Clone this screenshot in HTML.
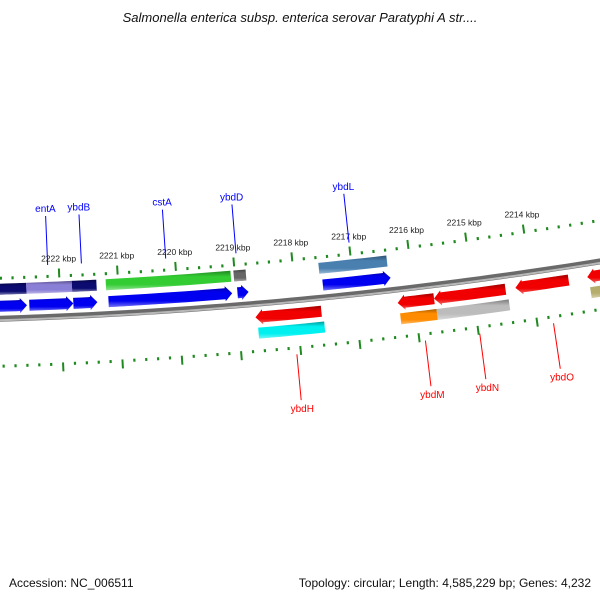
<!DOCTYPE html>
<html><head><meta charset="utf-8"><style>
html,body{margin:0;padding:0;background:#fff;}
svg{display:block;font-family:"Liberation Sans",sans-serif;}
</style></head><body>
<svg id="map" width="600" height="600" viewBox="0 0 600 600">
<defs>
<linearGradient id="shade" x1="0" y1="0" x2="0" y2="1">
<stop offset="0" stop-color="#000" stop-opacity="0.35"/>
<stop offset="0.3" stop-color="#000" stop-opacity="0"/>
<stop offset="0.7" stop-color="#fff" stop-opacity="0"/>
<stop offset="1" stop-color="#fff" stop-opacity="0.45"/>
</linearGradient>
</defs>
<text x="300" y="22" text-anchor="middle" font-size="13" font-style="italic" fill="#111">Salmonella enterica subsp. enterica serovar Paratyphi A str....</text>
<text x="9" y="587" font-size="12" fill="#111">Accession: NC_006511</text>
<text x="591" y="587" text-anchor="end" font-size="12" fill="#111">Topology: circular; Length: 4,585,229 bp; Genes: 4,232</text>
<g id="layer"></g>
</svg>
<script>
// data (kbp)
const tickStart = 2212.6;
const tickEnd = 2223.2;
const majorTicks = [2222, 2221, 2220, 2219, 2218, 2217, 2216, 2215, 2214];
const majorLabels = ["2222 kbp","2221 kbp","2220 kbp","2219 kbp","2218 kbp","2217 kbp","2216 kbp","2215 kbp","2214 kbp"];
// forward strand outer boxes (row B)
const rowBStart = [2223.1, 2222.57, 2221.79, 2221.21, 2219.02, 2217.56];
const rowBEnd   = [2222.57, 2221.79, 2221.37, 2219.07, 2218.81, 2216.39];
const rowBColor = ["#0b0b70", "#8a7fd6", "#0b0b70", "#33cc33", "#666666", "#4a80b0"];
// forward strand arrows (row A)
const rowAStart = [2223.1, 2222.53, 2221.78, 2221.18, 2218.98, 2217.52];
const rowAEnd   = [2222.57, 2221.78, 2221.37, 2219.07, 2218.79, 2216.36];
// reverse strand arrows (row C)
const rowCStart = [2218.71, 2216.29, 2215.67, 2214.28, 2213.05];
const rowCEnd   = [2217.59, 2215.67, 2214.45, 2213.37, 2212.3];
// reverse strand boxes (row D)
const rowDStart = [2218.68, 2216.27, 2215.65, 2213.03];
const rowDEnd   = [2217.56, 2215.65, 2214.42, 2212.3];
const rowDColor = ["#00f0f0", "#ff8c00", "#bcbcbc", "#b5ad6b"];
// gene labels
const fwdNames = ["entA","ybdB","cstA","ybdD","ybdL"];
const fwdPos = [2222.19, 2221.61, 2220.16, 2218.95, 2217.0];
const revNames = ["ybdH","ybdM","ybdN","ybdO"];
const revPos = [2218.07, 2215.9, 2214.98, 2213.73];

const R = 4700, XC = -146, CY = -4379;
const PHI0 = Math.asin(207 / 4700), DPHI = 0.01253;
function pt(kb, off) {
  const phi = PHI0 + (2222 - kb) * DPHI;
  const r = R + off;
  return [XC + r * Math.sin(phi), CY + r * Math.cos(phi)];
}
const NS = "http://www.w3.org/2000/svg";
const layer = document.getElementById("layer");
function mk(tag, attrs) {
  const e = document.createElementNS(NS, tag);
  for (const k in attrs) e.setAttribute(k, attrs[k]);
  layer.appendChild(e);
  return e;
}
function arcPts(a, b, off, n) {
  const out = [];
  for (let i = 0; i <= n; i++) out.push(pt(a + (b - a) * i / n, off));
  return out;
}
function ptsStr(p) { return p.map(q => q[0].toFixed(2) + "," + q[1].toFixed(2)).join(" "); }
// shape: dir 0 box, 1 arrow toward lower kb (right), -1 arrow toward higher kb (left)
function shape(a, b, o1, o2, dir) {
  const h = 0.12, m = (o1 + o2) / 2, ex = 2;
  if (dir === 0) return arcPts(a, b, o1, 6).concat(arcPts(b, a, o2, 6));
  if (dir === 1) {
    const bb = Math.min(a, b + h);
    return arcPts(a, bb, o1, 6).concat([pt(bb, o1 - ex), pt(b, m), pt(bb, o2 + ex)]).concat(arcPts(bb, a, o2, 6));
  }
  const aa = Math.max(b, a - h);
  return [pt(a, m), pt(aa, o1 - ex)].concat(arcPts(aa, b, o1, 6)).concat(arcPts(b, aa, o2, 6)).concat([pt(aa, o2 + ex)]);
}
function gene(a, b, o1, o2, dir, color, name) {
  const p = ptsStr(shape(a, b, o1, o2, dir));
  const g = mk("polygon", {points: p, fill: color});
  
  
  const s = mk("polygon", {points: p, fill: "url(#shade)"});
  
  
}
// backbone
const bb1 = mk("polyline", {points: ptsStr(arcPts(2223.6, 2212.2, 0, 60)), fill: "none", stroke: "#6a6a6a", "stroke-width": 6});


const bb2 = mk("polyline", {points: ptsStr(arcPts(2223.6, 2212.2, 1.5, 60)), fill: "none", stroke: "#b8b8b8", "stroke-width": 2});


// ticks
const nT = Math.round((tickEnd - tickStart) / 0.2);
for (let i = 0; i <= nT; i++) {
  const kb = tickStart + i * 0.2;
  const major = majorTicks.some(m => Math.abs(m - kb) < 0.01);
  const len = major ? 9 : 3;
  const w = major ? 2 : 2.2;
  let p1 = pt(kb, -39), p2 = pt(kb, -39 - len);
  const t1 = mk("line", {x1: p1[0], y1: p1[1], x2: p2[0], y2: p2[1], stroke: "#1f8a1f", "stroke-width": w});
  
  
  p1 = pt(kb, 46); p2 = pt(kb, 46 + len);
  const t2 = mk("line", {x1: p1[0], y1: p1[1], x2: p2[0], y2: p2[1], stroke: "#1f8a1f", "stroke-width": w});
  
  
}
majorTicks.forEach((kb, i) => {
  const p = pt(kb, -55);
  const t = mk("text", {x: p[0], y: p[1], "text-anchor": "middle", "font-size": 8.5, fill: "#222"});
  t.textContent = majorLabels[i];
  
  
});
// genes
rowBStart.forEach((a, i) => gene(a, rowBEnd[i], -35, -24, 0, rowBColor[i], 'forward-gene-box'));
rowAStart.forEach((a, i) => gene(a, rowAEnd[i], -18, -7, 1, "#0000f0", 'forward-gene-arrow'));
rowCStart.forEach((a, i) => gene(a, rowCEnd[i], 8, 19, -1, "#f00000", 'reverse-gene-arrow'));
rowDStart.forEach((a, i) => gene(a, rowDEnd[i], 24, 35, 0, rowDColor[i], 'reverse-gene-box'));
// labels
fwdNames.forEach((n, i) => {
  const p1 = pt(fwdPos[i], -52), p2 = pt(fwdPos[i], -101), pt3 = pt(fwdPos[i], -105);
  const l = mk("line", {x1: p1[0], y1: p1[1], x2: p2[0], y2: p2[1], stroke: "#0000ff", "stroke-width": 1});
  
  
  const t = mk("text", {x: pt3[0], y: pt3[1], "text-anchor": "middle", "font-size": 10, fill: "#0000ff"});
  t.textContent = n;
  
  
});
revNames.forEach((n, i) => {
  const p1 = pt(revPos[i], 54), p2 = pt(revPos[i], 100), pt3 = pt(revPos[i], 112);
  const l = mk("line", {x1: p1[0], y1: p1[1], x2: p2[0], y2: p2[1], stroke: "#ff0000", "stroke-width": 1});
  
  
  const t = mk("text", {x: pt3[0], y: pt3[1], "text-anchor": "middle", "font-size": 10, fill: "#ff0000"});
  t.textContent = n;
  
  
});
</script>
</body></html>
